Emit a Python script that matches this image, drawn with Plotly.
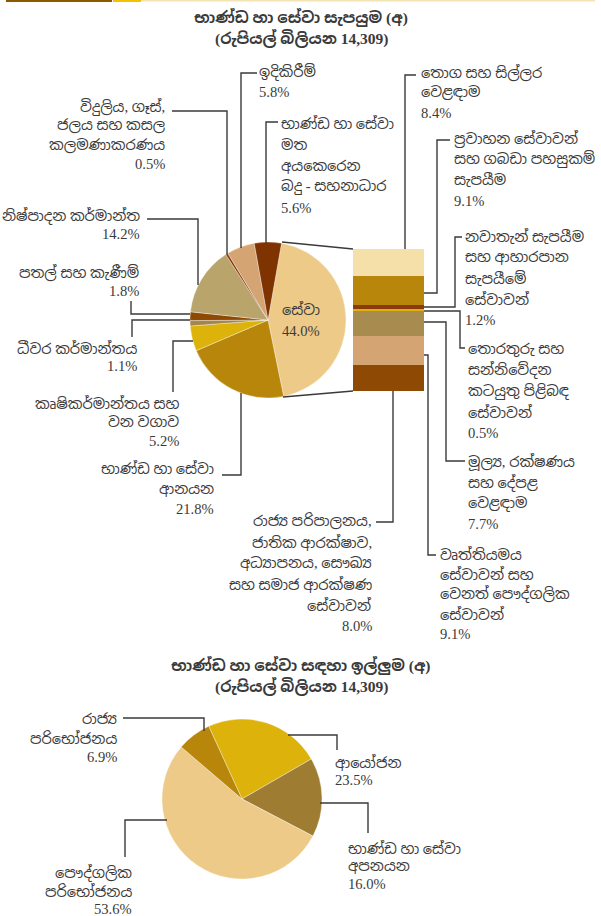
import plotly.graph_objects as go

# ---------------- data ----------------
supply_labels = [
    "සේවා",
    "භාණ්ඩ හා සේවා\nආනයන",
    "කෘෂිකර්මාන්තය සහ\nවන වගාව",
    "ධීවර කර්මාන්තය",
    "පතල් සහ කැණීම්",
    "නිෂ්පාදන කර්මාන්ත",
    "විදුලිය, ගෑස්,\nජලය සහ කසල\nකලමණාකරණය",
    "ඉදිකිරීම්",
    "භාණ්ඩ හා සේවා\nමත\nඅයකෙරෙන\nබදු - සහනාධාර",
]
supply_values = [44.0, 21.8, 5.2, 1.1, 1.8, 14.2, 0.5, 5.8, 5.6]
supply_colors = ["#EDCA88", "#B8860B", "#DDB20B", "#A3874A", "#8E4A05",
                 "#B9A46C", "#8A3A0C", "#D4A472", "#7E3300"]

# services breakdown, top to bottom of the stacked bar
services_labels = [
    "තොග සහ සිල්ලර\nවෙළඳාම",
    "ප්‍රවාහන සේවාවන්\nසහ ගබඩා පහසුකම්\nසැපයීම",
    "නවාතැන් සැපයීම\nසහ ආහාරපාන\nසැපයීමේ\nසේවාවන්",
    "තොරතුරු සහ\nසන්නිවේදන\nකටයුතු පිළිබඳ\nසේවාවන්",
    "මූල්‍ය, රක්ෂණය\nසහ දේපළ\nවෙළඳාම",
    "වෘත්තියමය\nසේවාවන් සහ\nවෙනත් පෞද්ගලික\nසේවාවන්",
    "රාජ්‍ය පරිපාලනය,\nජාතික ආරක්ෂාව,\nඅධ්‍යාපනය, සෞඛ්‍ය\nසහ සමාජ ආරක්ෂණ\nසේවාවන්",
]
services_values = [8.4, 9.1, 1.2, 0.5, 7.7, 9.1, 8.0]
services_colors = ["#F5E0AA", "#B8860B", "#8A3A0C", "#DDB20B", "#A88B4F", "#D4A472", "#8E4A05"]

demand_labels = ["ආයෝජන", "භාණ්ඩ හා සේවා\nඅපනයන", "පෞද්ගලික\nපරිභෝජනය", "රාජ්‍ය\nපරිභෝජනය"]
demand_values = [23.5, 16.0, 53.6, 6.9]
demand_colors = ["#DDB20B", "#9E7D33", "#EDCA88", "#B8860B"]

title1 = ["භාණ්ඩ හා සේවා සැපයුම (අ)", "(රුපියල් බිලියන 14,309)"]
title2 = ["භාණ්ඩ හා සේවා සඳහා ඉල්ලුම (අ)", "(රුපියල් බිලියන 14,309)"]

# ---------------- helpers ----------------
W, H = 601, 916
def X(px):
    return px / W
def Y(py):
    return 1 - py / H

FONT = "Liberation Serif, Noto Sans Sinhala, Iskoola Pota, Times New Roman, serif"
TXT = "#3a3a3a"
LINE = "#3a3a3a"

fig = go.Figure()

fig.add_trace(go.Pie(
    labels=[l.replace("\n", " ") for l in supply_labels], values=supply_values,
    sort=False, direction="clockwise", rotation=10,
    marker=dict(colors=supply_colors, line=dict(color="rgba(255,255,255,0.6)", width=0.6)),
    textinfo="none", showlegend=False,
    domain=dict(x=[X(190), X(346)], y=[Y(398), Y(242)]),
))

fig.add_trace(go.Pie(
    labels=[l.replace("\n", " ") for l in demand_labels], values=demand_values,
    sort=False, direction="clockwise", rotation=-24.6,
    marker=dict(colors=demand_colors, line=dict(color="rgba(255,255,255,0.6)", width=0.6)),
    textinfo="none", showlegend=False,
    domain=dict(x=[X(162), X(322)], y=[Y(879), Y(719)]),
))

# stacked bar (bottom to top)
for lab_, val, col in reversed(list(zip(services_labels, services_values, services_colors))):
    fig.add_trace(go.Bar(
        x=[0], y=[val], name=lab_.replace("\n", " "), marker=dict(color=col, line=dict(width=0)),
        width=1, showlegend=False, xaxis="x", yaxis="y",
    ))

annotations = []
def lines_at(lines, x, y0, step, align, size=14.6, bold=False):
    for i, t in enumerate(lines):
        annotations.append(dict(
            text=("<b>" + t + "</b>") if bold else t,
            x=X(x), y=Y(y0 + i * step), xref="paper", yref="paper", showarrow=False,
            xanchor=align, yanchor="middle", align=align,
            font=dict(family=FONT, size=size, color=TXT),
        ))

def lab(label, value, x, y0, step, align):
    lines_at(label.split("\n") + [f"{value:.1f}%"], x, y0, step, align)

# titles
lines_at(title1, 301, 17, 21, "center", size=15.5, bold=True)
lines_at(title2, 301, 665, 21, "center", size=15.5, bold=True)

# supply pie labels
lab(supply_labels[0], supply_values[0], 301, 309, 22, "center")
lab(supply_labels[1], supply_values[1], 216, 469, 20, "right")
lab(supply_labels[2], supply_values[2], 181, 403, 19, "right")
lab(supply_labels[3], supply_values[3], 139, 348, 18, "right")
lab(supply_labels[4], supply_values[4], 141, 273, 18, "right")
lab(supply_labels[5], supply_values[5], 142, 216, 18, "right")
lab(supply_labels[6], supply_values[6], 167, 107, 19, "right")
lab(supply_labels[7], supply_values[7], 257, 72, 20, "left")
lab(supply_labels[8], supply_values[8], 279, 124, 21, "left")

# services labels
lab(services_labels[0], services_values[0], 419, 73, 20, "left")
lab(services_labels[1], services_values[1], 452, 139, 20.5, "left")
lab(services_labels[2], services_values[2], 463, 236, 21, "left")
lab(services_labels[3], services_values[3], 466, 349, 21, "left")
lab(services_labels[4], services_values[4], 466, 462, 20.5, "left")
lab(services_labels[5], services_values[5], 438, 554, 20, "left")
lab(services_labels[6], services_values[6], 374, 521, 21, "right")

# demand labels
lab(demand_labels[0], demand_values[0], 333, 762, 18, "left")
lab(demand_labels[1], demand_values[1], 346, 848, 18, "left")
lab(demand_labels[2], demand_values[2], 134, 873, 18, "right")
lab(demand_labels[3], demand_values[3], 119, 719, 19, "right")

# leader lines (pixel polylines)
leaders = [
    [(257, 73), (241, 73), (241, 248)],
    [(278, 122), (266, 122), (266, 244)],
    [(172, 111), (227, 111), (227, 254)],
    [(147, 219), (198, 219), (198, 285)],
    [(131, 301), (131, 314), (190, 314)],
    [(132, 337), (132, 320), (190, 320)],
    [(173, 392), (173, 341), (193, 341)],
    [(222, 475), (241, 475), (241, 393)],
    [(416, 75), (405, 75), (405, 249)],
    [(450, 140), (437, 140), (437, 293), (424, 293)],
    [(462, 237), (455, 237), (455, 307), (424, 307)],
    [(424, 311), (460, 311), (460, 348), (465, 348)],
    [(424, 322), (446, 322), (446, 461), (465, 461)],
    [(424, 355), (428, 355), (428, 555), (436, 555)],
    [(376, 522), (393, 522), (393, 391)],
    [(123, 718), (204, 718), (204, 731)],
    [(288, 735), (337, 735), (337, 750)],
    [(320, 803), (368, 803), (368, 833)],
    [(125, 857), (125, 820), (167, 820)],
    # zoom connectors between pie and bar
    [(282, 242), (353, 249)],
    [(283, 397), (353, 391)],
]
shapes = []
for pts in leaders:
    path = "M " + " L ".join(f"{X(a)},{Y(b)}" for a, b in pts)
    shapes.append(dict(type="path", path=path, xref="paper", yref="paper",
                       line=dict(color=LINE, width=1.4)))

# top decorative strip
shapes.append(dict(type="rect", x0=X(6), x1=X(112), y0=Y(2), y1=Y(0), xref="paper", yref="paper",
                   fillcolor="#8B5A00", line=dict(width=0)))
shapes.append(dict(type="rect", x0=X(113), x1=X(141), y0=Y(2), y1=Y(0), xref="paper", yref="paper",
                   fillcolor="#F2C200", line=dict(width=0)))
shapes.append(dict(type="rect", x0=X(141), x1=X(595), y0=Y(1.5), y1=Y(0), xref="paper", yref="paper",
                   fillcolor="#F3E3B5", line=dict(width=0)))

fig.update_layout(
    width=W, height=H, margin=dict(l=0, r=0, t=0, b=0),
    paper_bgcolor="white", plot_bgcolor="white",
    barmode="stack", bargap=0,
    xaxis=dict(domain=[X(353), X(424)], range=[-0.5, 0.5], visible=False, fixedrange=True),
    yaxis=dict(domain=[Y(391), Y(249)], range=[0, sum(services_values)], visible=False, fixedrange=True),
    annotations=annotations, shapes=shapes,
    font=dict(family=FONT, color=TXT),
)

fig.write_html("out.html", config={"displayModeBar": False},
               post_script="document.body.style.margin='0';")
